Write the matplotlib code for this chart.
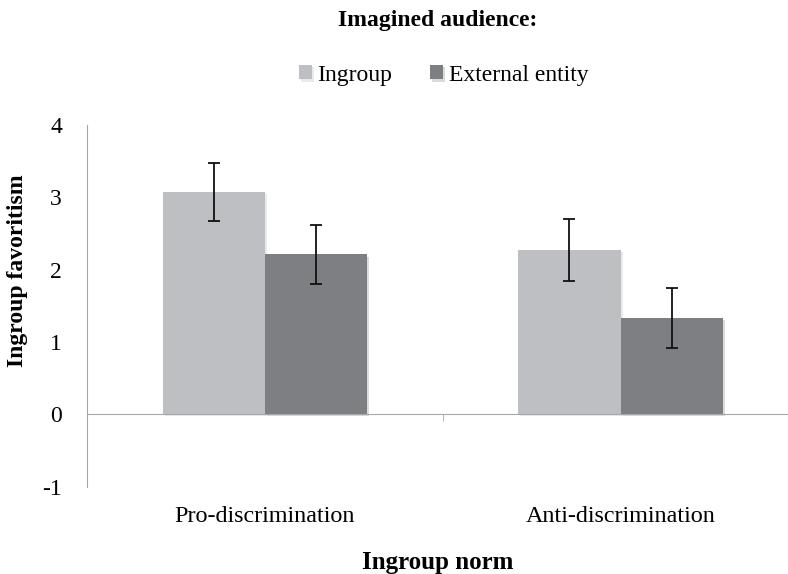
import matplotlib.pyplot as plt
import matplotlib.patheffects as pe
import numpy as np

# group means and error bars for each imagined audience
norms = ['Pro-discrimination', 'Anti-discrimination']
ingroup = [3.07, 2.27]
ingroup_err = [0.40, 0.43]
external = [2.21, 1.33]
external_err = [0.41, 0.41]
yticks = [-1, 0, 1, 2, 3, 4]

plt.rcParams['font.family'] = ['Liberation Serif', 'DejaVu Serif']
plt.rcParams['axes.unicode_minus'] = False
fs = 17

fig = plt.figure(figsize=(7.88, 5.74), dpi=100)
ax = fig.add_axes([0.1104, 0.1524, 0.903, 0.6298])

x = np.arange(len(norms))
w = 0.2877
shadow = [pe.SimplePatchShadow(offset=(1.5, -1.5), alpha=0.25, rho=0.9), pe.Normal()]

b1 = ax.bar(x - w / 2, ingroup, w, color='#bebfc2', label='Ingroup', zorder=2,
            path_effects=shadow)
b2 = ax.bar(x + w / 2, external, w, color='#7e7f83', label='External entity', zorder=2,
            path_effects=shadow)
ax.errorbar(x - w / 2, ingroup, yerr=ingroup_err, fmt='none', ecolor='#111111',
            elinewidth=1.3, capsize=4.5, capthick=1.3, zorder=3)
ax.errorbar(x + w / 2, external, yerr=external_err, fmt='none', ecolor='#111111',
            elinewidth=1.3, capsize=4.5, capthick=1.3, zorder=3)

ax.set_xlim(-0.5, 1.5)
ax.set_ylim(-1, 4)
ax.set_yticks(yticks)
ax.tick_params(axis='y', length=0, pad=18, labelsize=fs)

# category axis sits on zero, labels drop below the plot area
ax.spines['bottom'].set_position(('data', 0))
ax.spines['bottom'].set_color('#a6a6a6')
ax.spines['left'].set_color('#a6a6a6')
ax.spines['top'].set_visible(False)
ax.spines['right'].set_visible(False)
ax.set_xticks(x)
ax.set_xticklabels(norms)
ax.set_xticks([0.5], minor=True)
ax.tick_params(axis='x', which='major', length=0, pad=66, labelsize=17.4)
ax.tick_params(axis='x', which='minor', length=5, color='#a6a6a6', direction='out')

fig.text(0.555, 0.965, 'Imagined audience:', ha='center', va='center',
         fontsize=fs, fontweight='bold')
fig.legend(handles=[b1, b2], loc='center', bbox_to_anchor=(0.563, 0.869), ncol=2,
           frameon=False, fontsize=fs, handlelength=0.55, handleheight=0.55,
           handletextpad=0.25, columnspacing=1.6)
fig.text(0.022, 0.528, 'Ingroup favoritism', ha='center', va='center',
         rotation=90, fontsize=fs, fontweight='bold')
fig.text(0.556, 0.02, 'Ingroup norm', ha='center', va='center',
         fontsize=18, fontweight='bold')

fig.savefig('out.png', dpi=100)
